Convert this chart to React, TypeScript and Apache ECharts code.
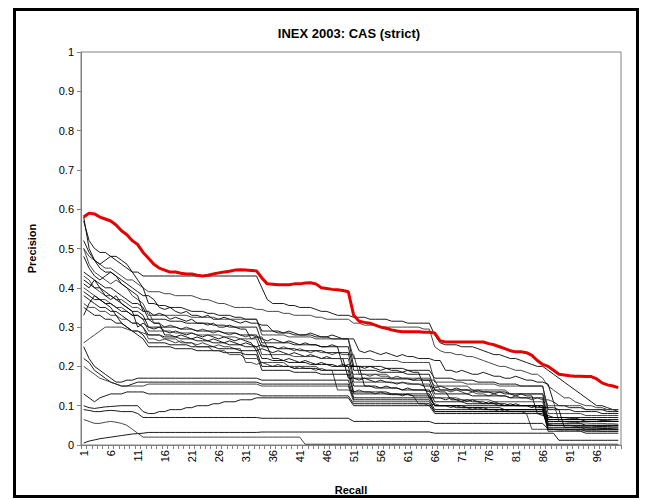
import React, { useEffect, useRef } from "react";
import * as echarts from "echarts";

const categories: string[] = Array.from({ length: 100 }, (_, i) => String(i + 1));
const yTicks = [0, 0.1, 0.2, 0.3, 0.4, 0.5, 0.6, 0.7, 0.8, 0.9, 1];

// best run (red)
const best = [
  0.58, 0.59, 0.588, 0.58, 0.575, 0.57, 0.56, 0.545, 0.535, 0.52,
  0.51, 0.49, 0.475, 0.46, 0.45, 0.445, 0.44, 0.44, 0.437, 0.435,
  0.435, 0.432, 0.43, 0.432, 0.435, 0.438, 0.44, 0.442, 0.445, 0.446,
  0.445, 0.444, 0.443, 0.425, 0.41, 0.409, 0.408, 0.408, 0.408, 0.41,
  0.41, 0.412, 0.413, 0.41, 0.4, 0.398, 0.396, 0.395, 0.393, 0.39,
  0.33, 0.315, 0.312, 0.31, 0.305, 0.3, 0.297, 0.293, 0.29, 0.288,
  0.288, 0.288, 0.288, 0.287, 0.287, 0.285, 0.265, 0.262, 0.262, 0.262,
  0.262, 0.262, 0.262, 0.262, 0.262, 0.258, 0.255, 0.25, 0.245, 0.24,
  0.237, 0.237, 0.235, 0.228, 0.215, 0.205, 0.2, 0.19, 0.18, 0.178,
  0.176, 0.175, 0.175, 0.174, 0.174, 0.168, 0.158, 0.153, 0.15, 0.146,
];

const k1 = [
  0.57, 0.52, 0.5, 0.49, 0.49, 0.48, 0.47, 0.46, 0.45, 0.44,
  0.44, 0.43, 0.43, 0.43, 0.43, 0.43, 0.43, 0.43, 0.43, 0.43,
  0.43, 0.43, 0.43, 0.43, 0.43, 0.43, 0.43, 0.43, 0.43, 0.43,
  0.43, 0.43, 0.43, 0.4, 0.37, 0.36, 0.36, 0.36, 0.355, 0.355,
  0.35, 0.35, 0.35, 0.345, 0.34, 0.34, 0.335, 0.33, 0.33, 0.33,
  0.325, 0.325, 0.325, 0.32, 0.32, 0.32, 0.32, 0.315, 0.315, 0.315,
  0.31, 0.31, 0.31, 0.31, 0.31, 0.28, 0.26, 0.255, 0.255, 0.255,
  0.25, 0.25, 0.25, 0.245, 0.24, 0.235, 0.23, 0.23, 0.225, 0.22,
  0.22, 0.215, 0.21, 0.205, 0.2, 0.2, 0.19, 0.18, 0.17, 0.16,
  0.15, 0.14, 0.13, 0.12, 0.11, 0.1, 0.1, 0.095, 0.09, 0.09,
];
const k2 = [
  0.5, 0.48, 0.47, 0.46, 0.45, 0.45, 0.44, 0.43, 0.42, 0.42,
  0.41, 0.4, 0.39, 0.39, 0.39, 0.385, 0.385, 0.38, 0.38, 0.38,
  0.38, 0.375, 0.37, 0.37, 0.365, 0.36, 0.36, 0.355, 0.35, 0.35,
  0.35, 0.35, 0.345, 0.345, 0.34, 0.34, 0.34, 0.335, 0.335, 0.33,
  0.33, 0.33, 0.33, 0.325, 0.325, 0.32, 0.32, 0.32, 0.32, 0.32,
  0.31, 0.31, 0.305, 0.305, 0.305, 0.3, 0.3, 0.3, 0.3, 0.3,
  0.3, 0.3, 0.3, 0.295, 0.295, 0.25, 0.24, 0.235, 0.235, 0.23,
  0.23, 0.225, 0.225, 0.22, 0.215, 0.21, 0.205, 0.2, 0.2, 0.195,
  0.19, 0.19, 0.185, 0.18, 0.18, 0.17, 0.15, 0.14, 0.13, 0.12,
  0.12, 0.11, 0.105, 0.1, 0.1, 0.095, 0.095, 0.09, 0.09, 0.085,
];
const m1 = [
  0.58, 0.5, 0.47, 0.46, 0.47, 0.48, 0.48, 0.47, 0.46, 0.44, 0.42, 0.4,
  0.36, 0.36, 0.355, 0.355, 0.35, 0.35, 0.35, 0.345, 0.34, 0.34, 0.34, 0.335, 0.335, 0.33, 0.33, 0.33, 0.325, 0.325, 0.32, 0.32, 0.32,
  0.29, 0.29, 0.29, 0.285, 0.285, 0.285, 0.28, 0.28, 0.28, 0.28, 0.275, 0.275, 0.275, 0.27, 0.27, 0.27, 0.27,
  0.2, 0.2, 0.2, 0.2, 0.2, 0.2, 0.195, 0.195, 0.195, 0.195, 0.19, 0.19, 0.19, 0.19, 0.19,
  0.17, 0.17, 0.17, 0.17, 0.165, 0.165, 0.165, 0.165, 0.16, 0.16, 0.16, 0.16, 0.155, 0.155, 0.155, 0.155, 0.15, 0.15, 0.15, 0.15, 0.15,
  0.09, 0.09, 0.09, 0.09, 0.09, 0.085, 0.085, 0.085, 0.085, 0.085, 0.08, 0.08, 0.08, 0.08,
];
const m2 = [
  0.52, 0.49, 0.47, 0.45, 0.44, 0.44, 0.43, 0.42, 0.41, 0.4, 0.39, 0.38, 0.38, 0.37,
  0.35, 0.345, 0.35, 0.34, 0.335, 0.34, 0.33, 0.33, 0.325, 0.33, 0.32, 0.32, 0.325, 0.32, 0.315, 0.31, 0.315, 0.31, 0.31, 0.305, 0.305,
  0.29, 0.29, 0.285, 0.29, 0.285, 0.28, 0.28, 0.285, 0.28, 0.275, 0.275, 0.28, 0.275, 0.27, 0.27, 0.27,
  0.24, 0.235, 0.24, 0.235, 0.23, 0.235, 0.23, 0.225, 0.23, 0.225, 0.225, 0.22, 0.22, 0.22, 0.215, 0.215,
  0.19, 0.19, 0.185, 0.19, 0.185, 0.18, 0.18, 0.185, 0.18, 0.175, 0.175, 0.17, 0.17, 0.175, 0.17, 0.165, 0.165, 0.16, 0.16, 0.155,
  0.11, 0.1, 0.1, 0.095, 0.095, 0.095, 0.09, 0.09, 0.09, 0.09, 0.085, 0.085, 0.085,
];
const m3 = [
  0.5, 0.46, 0.44, 0.43, 0.42, 0.41, 0.42, 0.41, 0.4, 0.38, 0.37, 0.36,
  0.33, 0.33, 0.33, 0.33, 0.33, 0.33, 0.33, 0.33, 0.325, 0.325, 0.325, 0.325, 0.325, 0.32, 0.32, 0.32, 0.32, 0.32, 0.32, 0.32, 0.32,
  0.28, 0.28, 0.28, 0.28, 0.28, 0.275, 0.275, 0.275, 0.275, 0.275, 0.27, 0.27, 0.27, 0.27, 0.27, 0.27, 0.27,
  0.22, 0.22, 0.22, 0.22, 0.215, 0.215, 0.215, 0.215, 0.215, 0.21, 0.21, 0.21, 0.21, 0.21, 0.21,
  0.16, 0.16, 0.16, 0.16, 0.16, 0.16, 0.155, 0.155, 0.155, 0.155, 0.155, 0.155, 0.15, 0.15, 0.15, 0.15, 0.15, 0.15, 0.15, 0.15, 0.15,
  0.08, 0.08, 0.08, 0.08, 0.08, 0.08, 0.08, 0.075, 0.075, 0.075, 0.075, 0.075, 0.075, 0.075,
];
const m4 = [
  0.48, 0.45, 0.43, 0.42, 0.43, 0.44, 0.43, 0.41, 0.4, 0.39, 0.38,
  0.34, 0.34, 0.33, 0.335, 0.33, 0.32, 0.325, 0.32, 0.315, 0.32, 0.31, 0.31, 0.305, 0.31, 0.3, 0.3, 0.305, 0.3, 0.295, 0.295,
  0.27, 0.275, 0.27, 0.265, 0.27, 0.265, 0.26, 0.265, 0.26, 0.255, 0.26, 0.255, 0.255, 0.25, 0.25, 0.255, 0.25,
  0.2, 0.205, 0.2, 0.2, 0.195, 0.2, 0.195, 0.19, 0.195, 0.19, 0.19, 0.185, 0.19, 0.185, 0.185,
  0.15, 0.15, 0.145, 0.15, 0.145, 0.14, 0.145, 0.14, 0.14, 0.135, 0.14, 0.135, 0.135, 0.13, 0.135, 0.13, 0.13, 0.125, 0.13, 0.125, 0.125,
  0.08, 0.075, 0.075, 0.07, 0.07, 0.07, 0.068, 0.068, 0.065, 0.065, 0.065, 0.065, 0.062, 0.062, 0.06, 0.06,
];
const m5 = [
  0.44, 0.43, 0.42, 0.41, 0.4, 0.4, 0.39, 0.38, 0.37, 0.36, 0.36, 0.35,
  0.32, 0.32, 0.32, 0.32, 0.315, 0.315, 0.315, 0.31, 0.31, 0.31, 0.31, 0.31, 0.305, 0.305, 0.305, 0.3, 0.3, 0.3, 0.3, 0.3, 0.3,
  0.26, 0.26, 0.26, 0.26, 0.26, 0.26, 0.255, 0.255, 0.255, 0.255, 0.255, 0.25, 0.25, 0.25, 0.25, 0.25, 0.25,
  0.19, 0.19, 0.19, 0.19, 0.19, 0.185, 0.185, 0.185, 0.185, 0.185, 0.18, 0.18, 0.18, 0.18, 0.18,
  0.14, 0.14, 0.14, 0.14, 0.14, 0.14, 0.14, 0.14, 0.135, 0.135, 0.135, 0.135, 0.135, 0.135, 0.13, 0.13, 0.13, 0.13, 0.13, 0.13, 0.13,
  0.065, 0.065, 0.065, 0.065, 0.065, 0.065, 0.065, 0.06, 0.06, 0.06, 0.06, 0.06, 0.06, 0.06,
];
const m6 = [
  0.43, 0.42, 0.4, 0.39, 0.38, 0.38, 0.37, 0.37, 0.36, 0.35, 0.35, 0.34, 0.34,
  0.31, 0.31, 0.3, 0.305, 0.3, 0.295, 0.3, 0.295, 0.29, 0.295, 0.29, 0.285, 0.29, 0.285, 0.28, 0.285, 0.28, 0.275, 0.28, 0.275, 0.275,
  0.25, 0.25, 0.245, 0.25, 0.245, 0.24, 0.245, 0.24, 0.235, 0.24, 0.235, 0.235, 0.23, 0.235, 0.23, 0.23, 0.23,
  0.18, 0.18, 0.175, 0.18, 0.175, 0.175, 0.17, 0.175, 0.17, 0.17, 0.165, 0.17, 0.165, 0.165, 0.165,
  0.14, 0.14, 0.135, 0.14, 0.135, 0.13, 0.135, 0.13, 0.13, 0.125, 0.13, 0.125, 0.125, 0.12, 0.125, 0.12, 0.12, 0.115, 0.12, 0.115, 0.115, 0.11,
  0.06, 0.06, 0.058, 0.058, 0.056, 0.056, 0.055, 0.055, 0.055, 0.054, 0.054, 0.053,
];
const m7 = [
  0.42, 0.41, 0.4, 0.4, 0.39, 0.38, 0.37, 0.36, 0.35, 0.34, 0.34, 0.33,
  0.3, 0.3, 0.3, 0.3, 0.3, 0.3, 0.295, 0.295, 0.295, 0.29, 0.29, 0.29, 0.29, 0.29, 0.285, 0.285, 0.285, 0.28, 0.28, 0.28, 0.28,
  0.25, 0.25, 0.25, 0.245, 0.245, 0.245, 0.245, 0.24, 0.24, 0.24, 0.24, 0.24, 0.235, 0.235, 0.235, 0.235, 0.235,
  0.17, 0.17, 0.17, 0.17, 0.17, 0.17, 0.17, 0.168, 0.168, 0.168, 0.168, 0.165, 0.165, 0.165, 0.165,
  0.13, 0.13, 0.13, 0.13, 0.13, 0.13, 0.13, 0.125, 0.125, 0.125, 0.125, 0.125, 0.125, 0.125, 0.12, 0.12, 0.12, 0.12, 0.12, 0.12, 0.12,
  0.055, 0.055, 0.055, 0.055, 0.055, 0.055, 0.055, 0.05, 0.05, 0.05, 0.05, 0.05, 0.05, 0.05,
];
const m8 = [
  0.41, 0.4, 0.42, 0.4, 0.38, 0.37, 0.38, 0.36, 0.35, 0.34,
  0.3, 0.31, 0.3, 0.295, 0.3, 0.29, 0.285, 0.29, 0.285, 0.28, 0.285, 0.28, 0.275, 0.28, 0.275, 0.27, 0.275, 0.27, 0.265, 0.27, 0.265, 0.26,
  0.24, 0.245, 0.24, 0.235, 0.24, 0.235, 0.23, 0.235, 0.23, 0.225, 0.23, 0.225, 0.22, 0.225, 0.22, 0.22, 0.22,
  0.17, 0.17, 0.165, 0.17, 0.165, 0.16, 0.165, 0.16, 0.16, 0.155, 0.16, 0.155, 0.155, 0.155, 0.15,
  0.12, 0.12, 0.12, 0.115, 0.12, 0.115, 0.115, 0.11, 0.115, 0.11, 0.11, 0.105, 0.11, 0.105, 0.105, 0.1, 0.105, 0.1, 0.1, 0.1, 0.095, 0.095,
  0.052, 0.05, 0.05, 0.05, 0.05, 0.048, 0.048, 0.048, 0.048, 0.047, 0.047, 0.047, 0.046, 0.046,
];
const m9 = [
  0.4, 0.39, 0.38, 0.37, 0.37, 0.36, 0.35, 0.35, 0.34, 0.33, 0.33, 0.32,
  0.29, 0.29, 0.29, 0.29, 0.29, 0.285, 0.285, 0.285, 0.285, 0.28, 0.28, 0.28, 0.28, 0.28, 0.275, 0.275, 0.275, 0.27, 0.27, 0.27, 0.27,
  0.23, 0.23, 0.23, 0.23, 0.23, 0.23, 0.225, 0.225, 0.225, 0.225, 0.225, 0.22, 0.22, 0.22, 0.22, 0.22, 0.22,
  0.16, 0.16, 0.16, 0.16, 0.16, 0.16, 0.16, 0.158, 0.158, 0.158, 0.158, 0.155, 0.155, 0.155, 0.155,
  0.12, 0.12, 0.12, 0.12, 0.12, 0.115, 0.115, 0.115, 0.115, 0.115, 0.115, 0.11, 0.11, 0.11, 0.11, 0.11, 0.11, 0.11, 0.11, 0.11, 0.11,
  0.05, 0.05, 0.05, 0.05, 0.05, 0.05, 0.05, 0.045, 0.045, 0.045, 0.045, 0.045, 0.045, 0.045,
];
const m10 = [
  0.39, 0.38, 0.37, 0.37, 0.36, 0.36, 0.35, 0.34, 0.34, 0.33, 0.33, 0.32, 0.32, 0.31, 0.31,
  0.28, 0.28, 0.275, 0.28, 0.275, 0.27, 0.275, 0.27, 0.265, 0.27, 0.265, 0.26, 0.265, 0.26, 0.255, 0.26, 0.255, 0.25, 0.255, 0.25,
  0.22, 0.22, 0.215, 0.22, 0.215, 0.21, 0.215, 0.21, 0.205, 0.21, 0.205, 0.205, 0.2, 0.205, 0.2, 0.2, 0.2,
  0.15, 0.15, 0.15, 0.145, 0.15, 0.145, 0.145, 0.14, 0.145, 0.14, 0.14, 0.14, 0.135, 0.14, 0.135, 0.135,
  0.115, 0.115, 0.11, 0.115, 0.11, 0.11, 0.105, 0.11, 0.105, 0.105, 0.1, 0.105, 0.1, 0.1, 0.1, 0.095, 0.1, 0.095, 0.095, 0.095, 0.09,
  0.045, 0.045, 0.045, 0.044, 0.044, 0.043, 0.043, 0.042, 0.042, 0.041, 0.04,
];
const m11 = [
  0.38, 0.37, 0.36, 0.35, 0.35, 0.34, 0.34, 0.33, 0.32, 0.31, 0.31, 0.3,
  0.28, 0.28, 0.28, 0.275, 0.275, 0.275, 0.27, 0.27, 0.27, 0.265, 0.265, 0.265, 0.26, 0.26, 0.26, 0.255, 0.255, 0.255, 0.25, 0.25, 0.25,
  0.22, 0.22, 0.215, 0.215, 0.215, 0.21, 0.21, 0.21, 0.21, 0.205, 0.205, 0.205, 0.205, 0.2, 0.2, 0.2, 0.2,
  0.15, 0.15, 0.15, 0.15, 0.145, 0.145, 0.145, 0.145, 0.145, 0.14, 0.14, 0.14, 0.14, 0.14, 0.14,
  0.11, 0.11, 0.11, 0.11, 0.11, 0.11, 0.105, 0.105, 0.105, 0.105, 0.105, 0.105, 0.1, 0.1, 0.1, 0.1, 0.1, 0.1, 0.1, 0.1, 0.1,
  0.045, 0.045, 0.045, 0.045, 0.045, 0.045, 0.045, 0.04, 0.04, 0.04, 0.04, 0.04, 0.04, 0.04,
];
const m12 = [
  0.36, 0.35, 0.35, 0.34, 0.34, 0.33, 0.33, 0.32, 0.32, 0.31, 0.31, 0.3,
  0.27, 0.27, 0.265, 0.27, 0.265, 0.26, 0.265, 0.26, 0.26, 0.255, 0.26, 0.255, 0.25, 0.255, 0.25, 0.25, 0.245, 0.245,
  0.21, 0.21, 0.205, 0.21, 0.205, 0.2, 0.205, 0.2, 0.2, 0.195, 0.2, 0.195, 0.195, 0.19, 0.195, 0.19, 0.19,
  0.14, 0.14, 0.14, 0.135, 0.14, 0.135, 0.135, 0.13, 0.135, 0.13, 0.13, 0.13, 0.125, 0.13, 0.125,
  0.105, 0.105, 0.1, 0.105, 0.1, 0.1, 0.095, 0.1, 0.095, 0.095, 0.09, 0.095, 0.09, 0.09, 0.09, 0.085, 0.09, 0.085, 0.085, 0.085, 0.08,
  0.04, 0.04, 0.04, 0.04, 0.04, 0.038, 0.038, 0.038, 0.038, 0.036, 0.036, 0.036, 0.036, 0.035, 0.035, 0.035, 0.035,
];
const m13 = [
  0.35, 0.34, 0.33, 0.33, 0.32, 0.32, 0.31, 0.31, 0.3, 0.29, 0.29, 0.28,
  0.26, 0.26, 0.26, 0.26, 0.255, 0.255, 0.255, 0.255, 0.25, 0.25, 0.25, 0.25, 0.25, 0.245, 0.245, 0.245, 0.245, 0.24, 0.24, 0.24, 0.24,
  0.2, 0.2, 0.2, 0.2, 0.2, 0.2, 0.195, 0.195, 0.195, 0.195, 0.195, 0.19, 0.19, 0.19, 0.19, 0.19, 0.19,
  0.135, 0.135, 0.135, 0.135, 0.135, 0.135, 0.135, 0.13, 0.13, 0.13, 0.13, 0.13, 0.13, 0.13, 0.13,
  0.1, 0.1, 0.1, 0.1, 0.1, 0.1, 0.095, 0.095, 0.095, 0.095, 0.095, 0.095, 0.095, 0.09, 0.09, 0.09, 0.09, 0.09, 0.09, 0.09, 0.09,
  0.04, 0.04, 0.04, 0.04, 0.04, 0.04, 0.04, 0.035, 0.035, 0.035, 0.035, 0.035, 0.035, 0.035,
];
const m14 = [
  0.33, 0.36, 0.38, 0.37, 0.36, 0.35, 0.33, 0.31, 0.3, 0.29, 0.28, 0.27,
  0.25, 0.25, 0.25, 0.25, 0.25, 0.245, 0.245, 0.245, 0.245, 0.24, 0.24, 0.24, 0.24, 0.24, 0.235, 0.235, 0.235, 0.235, 0.23, 0.23, 0.23,
  0.19, 0.19, 0.19, 0.19, 0.19, 0.19, 0.185, 0.185, 0.185, 0.185, 0.185, 0.18, 0.18, 0.18, 0.18, 0.18, 0.18,
  0.13, 0.13, 0.13, 0.13, 0.13, 0.13, 0.13, 0.128, 0.128, 0.128, 0.128, 0.125, 0.125, 0.125, 0.125,
  0.1, 0.1, 0.1, 0.1, 0.095, 0.095, 0.095, 0.095, 0.095, 0.095, 0.09, 0.09, 0.09, 0.09, 0.09, 0.09, 0.09, 0.09, 0.09, 0.09, 0.09,
  0.035, 0.035, 0.035, 0.035, 0.035, 0.035, 0.035, 0.03, 0.03, 0.03, 0.03, 0.03, 0.03, 0.03,
];
const m15 = [
  0.26, 0.27, 0.28, 0.29, 0.3, 0.3, 0.3, 0.3, 0.295, 0.29, 0.29, 0.285,
  0.28, 0.28, 0.28, 0.27, 0.27, 0.27, 0.26, 0.26, 0.26, 0.25, 0.25, 0.25, 0.24, 0.24, 0.24, 0.23, 0.23, 0.23, 0.22, 0.22, 0.22,
  0.21, 0.21, 0.21, 0.21, 0.21, 0.2, 0.2, 0.2, 0.2, 0.2, 0.2, 0.19, 0.19, 0.19, 0.19, 0.19, 0.19,
  0.18, 0.18, 0.18, 0.18, 0.18, 0.18, 0.18, 0.17, 0.17, 0.17, 0.17, 0.17, 0.17, 0.17, 0.17,
  0.15, 0.15, 0.15, 0.15, 0.15, 0.15, 0.15, 0.14, 0.14, 0.14, 0.14, 0.14, 0.14, 0.14, 0.13, 0.13, 0.13, 0.13, 0.13, 0.13, 0.13,
  0.1, 0.1, 0.1, 0.1, 0.1, 0.1, 0.1, 0.09, 0.09, 0.09, 0.09, 0.09, 0.09, 0.09,
];
const l1 = [
  0.25, 0.22, 0.2, 0.19, 0.18, 0.17, 0.16, 0.16, 0.165, 0.165, 0.17, 0.17,
  0.17, 0.17, 0.17, 0.17, 0.17, 0.17, 0.17, 0.17, 0.17, 0.17, 0.17, 0.17, 0.17, 0.17, 0.17, 0.17, 0.17, 0.17, 0.17, 0.17, 0.17,
  0.165, 0.165, 0.165, 0.165, 0.165, 0.165, 0.165, 0.165, 0.165, 0.165, 0.165, 0.165, 0.165, 0.165, 0.165, 0.165, 0.165,
  0.12, 0.12, 0.12, 0.12, 0.12, 0.12, 0.12, 0.12, 0.12, 0.12, 0.12, 0.12, 0.12, 0.12, 0.12,
  0.1, 0.1, 0.1, 0.1, 0.1, 0.1, 0.1, 0.1, 0.1, 0.1, 0.1, 0.1, 0.1, 0.1, 0.1, 0.1, 0.1, 0.1, 0.1, 0.1, 0.1,
  0.07, 0.07, 0.07, 0.07, 0.07, 0.07, 0.07, 0.07, 0.07, 0.07, 0.07, 0.07, 0.07, 0.07,
];
const l2 = [
  0.22, 0.21, 0.19, 0.18, 0.17, 0.16, 0.155, 0.15, 0.15, 0.155, 0.16, 0.16,
  0.16, 0.16, 0.16, 0.16, 0.16, 0.16, 0.16, 0.16, 0.16, 0.16, 0.16, 0.16, 0.16, 0.16, 0.16, 0.16, 0.16, 0.16, 0.16, 0.16, 0.16,
  0.155, 0.155, 0.155, 0.155, 0.155, 0.155, 0.155, 0.155, 0.155, 0.155, 0.155, 0.155, 0.155, 0.155, 0.155, 0.155, 0.155,
  0.115, 0.115, 0.115, 0.115, 0.115, 0.115, 0.115, 0.115, 0.115, 0.115, 0.115, 0.115, 0.115, 0.115, 0.115,
  0.09, 0.09, 0.09, 0.09, 0.09, 0.09, 0.09, 0.09, 0.09, 0.09, 0.09, 0.09, 0.09, 0.09, 0.09, 0.09, 0.09, 0.09, 0.09, 0.09, 0.09,
  0.065, 0.065, 0.065, 0.065, 0.065, 0.065, 0.065, 0.065, 0.065, 0.065, 0.065, 0.065, 0.065, 0.065,
];
const l3 = [
  0.2, 0.19, 0.18, 0.17, 0.165, 0.16, 0.155, 0.15, 0.15, 0.15, 0.15, 0.15,
  0.155, 0.155, 0.155, 0.155, 0.155, 0.155, 0.155, 0.155, 0.155, 0.155, 0.155, 0.155, 0.155, 0.155, 0.155, 0.155, 0.155, 0.155, 0.155, 0.155, 0.155,
  0.15, 0.15, 0.15, 0.15, 0.15, 0.15, 0.15, 0.15, 0.15, 0.15, 0.15, 0.15, 0.15, 0.15, 0.15, 0.15, 0.15,
  0.11, 0.11, 0.11, 0.11, 0.11, 0.11, 0.11, 0.11, 0.11, 0.11, 0.11, 0.11, 0.11, 0.11, 0.11,
  0.085, 0.085, 0.085, 0.085, 0.085, 0.085, 0.085, 0.085, 0.085, 0.085, 0.085, 0.085, 0.085, 0.085, 0.085, 0.085, 0.085, 0.085, 0.085, 0.085, 0.085,
  0.06, 0.06, 0.06, 0.06, 0.06, 0.06, 0.06, 0.06, 0.06, 0.06, 0.06, 0.06, 0.06, 0.06,
];
const l4 = [
  0.13, 0.12, 0.11, 0.12, 0.125, 0.13, 0.13, 0.13, 0.135, 0.135, 0.135, 0.135,
  0.13, 0.13, 0.13, 0.13, 0.13, 0.13, 0.13, 0.13, 0.13, 0.13, 0.13, 0.13, 0.13, 0.13, 0.13, 0.13, 0.13, 0.13, 0.13, 0.13, 0.13,
  0.125, 0.125, 0.125, 0.125, 0.125, 0.125, 0.125, 0.125, 0.125, 0.125, 0.125, 0.125, 0.125, 0.125, 0.125, 0.125, 0.125,
  0.105, 0.105, 0.105, 0.105, 0.105, 0.105, 0.105, 0.105, 0.105, 0.105, 0.105, 0.105, 0.105, 0.105, 0.105,
  0.085, 0.085, 0.085, 0.085, 0.085, 0.085, 0.085, 0.085, 0.085, 0.085, 0.085, 0.085, 0.085, 0.085, 0.085, 0.085, 0.085, 0.085, 0.085, 0.085, 0.085,
  0.06, 0.06, 0.06, 0.06, 0.06, 0.06, 0.06, 0.06, 0.06, 0.06, 0.06, 0.06, 0.06, 0.06,
];
const b1 = [
  0.005, 0.01, 0.013, 0.016, 0.018, 0.02, 0.022, 0.024, 0.026, 0.028, 0.029, 0.03,
  0.032, 0.032, 0.032, 0.032, 0.032, 0.032, 0.032, 0.032, 0.032, 0.032, 0.032, 0.032, 0.032, 0.032, 0.032, 0.032, 0.032, 0.032, 0.032, 0.032, 0.032,
  0.033, 0.033, 0.033, 0.033, 0.033, 0.033, 0.033, 0.033, 0.033, 0.033, 0.033, 0.033, 0.033, 0.033, 0.033, 0.033, 0.033,
  0.033, 0.033, 0.033, 0.033, 0.033, 0.033, 0.033, 0.033, 0.033, 0.033, 0.033, 0.033, 0.033, 0.033, 0.033,
  0.03, 0.03, 0.03, 0.03, 0.03, 0.03, 0.03, 0.03, 0.03, 0.03, 0.03, 0.03, 0.03, 0.03, 0.03, 0.03, 0.03, 0.03, 0.03, 0.03, 0.03,
  0.03, 0.03, 0.012, 0.012, 0.012, 0.012, 0.012, 0.012, 0.012, 0.012, 0.012, 0.012, 0.012, 0.012,
];
const b2 = [
  0.065, 0.06, 0.055, 0.055, 0.058, 0.06, 0.058, 0.055, 0.05, 0.04, 0.03, 0.02,
  0.02, 0.02, 0.02, 0.02, 0.02, 0.02, 0.02, 0.02, 0.02, 0.02, 0.02, 0.02, 0.02, 0.02, 0.02, 0.02, 0.02, 0.02, 0.02, 0.02, 0.02,
  0.02, 0.02, 0.02, 0.02, 0.02, 0.02, 0.02, 0.02, 0.002, 0.002, 0.002, 0.002, 0.002, 0.002, 0.002, 0.002, 0.002,
  0.002, 0.002, 0.002, 0.002, 0.002, 0.002, 0.002, 0.002, 0.002, 0.002, 0.002, 0.002, 0.002, 0.002, 0.002,
  0.002, 0.002, 0.002, 0.002, 0.002, 0.002, 0.002, 0.002, 0.002, 0.002, 0.002, 0.002, 0.002, 0.002, 0.002, 0.002, 0.002, 0.002, 0.002, 0.002, 0.002,
  0.002, 0.002, 0.002, 0.002, 0.002, 0.002, 0.002, 0.002, 0.002, 0.002, 0.002, 0.002, 0.002, 0.002,
];
const b3 = [
  0.09, 0.088, 0.085, 0.085, 0.087, 0.088, 0.087, 0.085, 0.085, 0.085, 0.08, 0.07,
  0.07, 0.07, 0.07, 0.07, 0.07, 0.07, 0.07, 0.07, 0.07, 0.07, 0.07, 0.07, 0.07, 0.07, 0.07, 0.07, 0.07, 0.07, 0.07, 0.07, 0.07,
  0.068, 0.068, 0.068, 0.068, 0.068, 0.068, 0.068, 0.068, 0.068, 0.068, 0.068, 0.068, 0.068, 0.068, 0.068, 0.068, 0.068,
  0.06, 0.06, 0.06, 0.06, 0.06, 0.06, 0.06, 0.06, 0.06, 0.06, 0.06, 0.06, 0.06, 0.06, 0.06,
  0.055, 0.055, 0.055, 0.055, 0.055, 0.055, 0.055, 0.055, 0.055, 0.055, 0.055, 0.055, 0.055, 0.055, 0.055, 0.055, 0.055, 0.055, 0.055, 0.055, 0.055,
  0.04, 0.04, 0.04, 0.04, 0.04, 0.04, 0.04, 0.04, 0.04, 0.04, 0.04, 0.04, 0.04, 0.04,
];
const b4 = [
  0.1, 0.095, 0.093, 0.095, 0.097, 0.098, 0.099, 0.1, 0.1, 0.1, 0.1, 0.085,
  0.08, 0.08, 0.085, 0.085, 0.09, 0.09, 0.09, 0.095, 0.095, 0.1, 0.1, 0.1, 0.105, 0.105, 0.11, 0.11, 0.11, 0.115, 0.115, 0.115, 0.12,
  0.12, 0.12, 0.12, 0.12, 0.12, 0.12, 0.12, 0.12, 0.12, 0.12, 0.12, 0.12, 0.12, 0.12, 0.12, 0.12, 0.12,
  0.1, 0.1, 0.1, 0.1, 0.1, 0.1, 0.1, 0.1, 0.1, 0.1, 0.1, 0.1, 0.1, 0.1, 0.1,
  0.08, 0.08, 0.08, 0.08, 0.08, 0.08, 0.08, 0.08, 0.08, 0.08, 0.08, 0.08, 0.08, 0.08, 0.08, 0.08, 0.08, 0.08, 0.08, 0.08, 0.08,
  0.05, 0.05, 0.05, 0.05, 0.05, 0.05, 0.05, 0.05, 0.05, 0.05, 0.05, 0.05, 0.05, 0.05,
];

const otherRuns = [k1, k2, m1, m2, m3, m4, m5, m6, m7, m8, m9, m10, m11, m12, m13, m14, m15, l1, l2, l3, l4, b1, b2, b3, b4];

const FONT = "'Liberation Sans', Arial, sans-serif";

export default function App() {
  const ref = useRef<HTMLDivElement>(null);
  useEffect(() => {
    if (!ref.current) return;
    const chart = echarts.init(ref.current, undefined, { renderer: "svg" });
    const series: any[] = otherRuns.map((d, idx) => ({
      type: "line",
      name: "run" + (idx + 1),
      data: d,
      symbol: "none",
      silent: true,
      lineStyle: { color: idx % 3 === 1 ? "#333" : "#000", width: 0.9 },
      z: 2,
    }));
    series.push({
      type: "line",
      name: "best",
      data: best,
      symbol: "none",
      silent: true,
      lineStyle: { color: "#e60000", width: 3 },
      z: 5,
    });
    chart.setOption({
      animation: false,
      backgroundColor: "#fff",
      textStyle: { fontFamily: FONT },
      title: {
        text: "INEX 2003: CAS (strict)",
        left: 344,
        top: 22,
        textAlign: "center",
        textStyle: { fontFamily: FONT, fontSize: 13, fontWeight: "bold", color: "#000" },
      },
      graphic: [
        {
          type: "rect",
          shape: { x: 14.5, y: 9.5, width: 623, height: 487 },
          style: { fill: "none", stroke: "#000", lineWidth: 3 },
          z: 10,
        },
      ],
      grid: {
        left: 81,
        top: 52,
        right: 24,
        bottom: 51,
        show: true,
        borderColor: "#808080",
        borderWidth: 1,
        backgroundColor: "#fff",
      },
      xAxis: {
        type: "category",
        data: categories,
        boundaryGap: true,
        name: "Recall",
        nameLocation: "middle",
        nameGap: 39,
        nameTextStyle: { fontFamily: FONT, fontSize: 11, fontWeight: "bold", color: "#000" },
        axisLine: { lineStyle: { color: "#808080" } },
        axisTick: { show: true, interval: 0, length: 4, lineStyle: { color: "#808080" } },
        axisLabel: {
          interval: 4,
          rotate: 90,
          margin: 5,
          fontFamily: FONT,
          fontSize: 11,
          color: "#000",
        },
        splitLine: { show: false },
      },
      yAxis: {
        type: "value",
        min: 0,
        max: 1,
        interval: 0.1,
        name: "Precision",
        nameLocation: "middle",
        nameRotate: 90,
        nameGap: 44,
        nameTextStyle: { fontFamily: FONT, fontSize: 11, fontWeight: "bold", color: "#000" },
        axisLine: { show: true, lineStyle: { color: "#808080" } },
        axisTick: { show: true, length: 4, lineStyle: { color: "#808080" } },
        axisLabel: {
          margin: 7,
          fontFamily: FONT,
          fontSize: 11,
          color: "#000",
          formatter: (v: number) => {
            const t = yTicks.find((x) => Math.abs(x - v) < 1e-9);
            return String(t !== undefined ? t : v);
          },
        },
        splitLine: { show: false },
      },
      series,
    });
    return () => chart.dispose();
  }, []);
  return (
    <div
      ref={ref}
      style={{ position: "absolute", left: 0, top: 0, width: 645, height: 500 }}
    />
  );
}
